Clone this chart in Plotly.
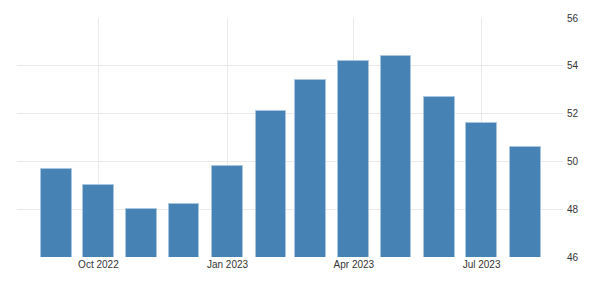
import plotly.graph_objects as go

months = ["2022-09-01", "2022-10-01", "2022-11-01", "2022-12-01", "2023-01-01", "2023-02-01",
          "2023-03-01", "2023-04-01", "2023-05-01", "2023-06-01", "2023-07-01", "2023-08-01"]
values = [49.7, 49.0, 48.0, 48.2, 49.8, 52.1, 53.4, 54.2, 54.4, 52.7, 51.6, 50.6]
x_ticks = ["2022-10-01", "2023-01-01", "2023-04-01", "2023-07-01"]
x_tick_labels = ["Oct 2022", "Jan 2023", "Apr 2023", "Jul 2023"]
y_ticks = [46, 48, 50, 52, 54, 56]

fig = go.Figure()
fig.add_trace(go.Bar(
    x=months, y=values,
    width=22 * 24 * 3600 * 1000,
    marker=dict(color="#4682B4", line=dict(color="#a9c6e0", width=1)),
))

font_fam = "Liberation Sans Narrow, Arial Narrow, Liberation Sans, Arial, sans-serif"
fig.update_layout(
    width=602, height=283,
    margin=dict(l=17, r=39, t=15, b=26),
    paper_bgcolor="white", plot_bgcolor="white",
    showlegend=False,
    bargap=0,
    font=dict(family=font_fam, size=10, color="#333333"),
    xaxis=dict(
        type="date",
        range=["2022-08-04", "2023-08-28"],
        tickvals=x_ticks, ticktext=x_tick_labels,
        showgrid=True, gridcolor="#e9e9e9", gridwidth=1,
        zeroline=False, showline=False, ticks="",
        tickfont=dict(family=font_fam, size=10, color="#333333"),
    ),
    yaxis=dict(
        side="right",
        range=[46, 56],
        tickvals=y_ticks,
        showgrid=True, gridcolor="#e9e9e9", gridwidth=1,
        zeroline=False, showline=False,
        ticks="outside", ticklen=1, tickcolor="white",
        tickfont=dict(family=font_fam, size=10, color="#333333"),
    ),
)

fig.write_html("out.html")
